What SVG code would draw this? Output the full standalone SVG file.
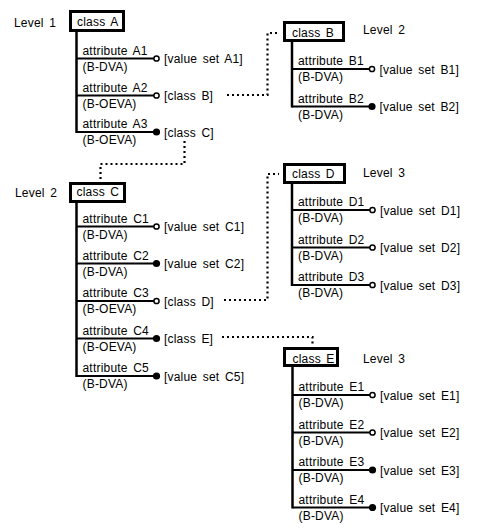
<svg xmlns="http://www.w3.org/2000/svg" width="500" height="528" viewBox="0 0 500 528">
<style>
text{font-family:"Liberation Sans",Arial,sans-serif;font-size:12px;fill:#000;letter-spacing:0.2px;word-spacing:2px}
.box{fill:#fff;stroke:#000;stroke-width:3}
.trunk{stroke:#000;stroke-width:2.5;fill:none}
.attr{stroke:#000;stroke-width:2;fill:none}
.open{fill:#fff;stroke:#000;stroke-width:1.5}
.filled{fill:#000;stroke:none}
.dot{fill:none;stroke:#000;stroke-width:2.2;stroke-dasharray:2 3}
</style>
<rect width="500" height="528" fill="#fff"/>
<g id="connectors">
<path class="dot" d="M227,95 H267.5 V33 H279"/>
<path class="dot" d="M184.5,141 V164 H100.5 V180"/>
<path class="dot" d="M224,300 H267.5 V174 H279"/>
<path class="dot" d="M222,337 H312.5 V346"/>
</g>
<g id="classA">
<text x="14" y="27">Level 1</text>
<rect class="box" x="70.5" y="11.5" width="53" height="19"/>
<text x="77" y="26">class A</text>
<line class="trunk" x1="76.5" y1="32" x2="76.5" y2="133"/>
<line class="attr" x1="76.5" y1="58.5" x2="154" y2="58.5"/>
<circle class="open" cx="156.5" cy="58.5" r="2.6"/>
<text x="82.5" y="54.5">attribute A1</text>
<text x="82.5" y="70.5">(B-DVA)</text>
<text x="164" y="63">[value set A1]</text>
<line class="attr" x1="76.5" y1="95.5" x2="154" y2="95.5"/>
<circle class="open" cx="156.5" cy="95.5" r="2.6"/>
<text x="82.5" y="91.5">attribute A2</text>
<text x="82.5" y="107.5">(B-OEVA)</text>
<text x="164" y="100">[class B]</text>
<line class="attr" x1="76.5" y1="132" x2="154" y2="132"/>
<circle class="filled" cx="156.5" cy="132" r="3.6"/>
<text x="82.5" y="128">attribute A3</text>
<text x="82.5" y="144">(B-OEVA)</text>
<text x="164" y="136.5">[class C]</text>
</g>
<g id="classB">
<rect class="box" x="284.5" y="22.5" width="59" height="18"/>
<text x="292" y="36.5">class B</text>
<text x="363" y="34">Level 2</text>
<line class="trunk" x1="292" y1="42" x2="292" y2="107.5"/>
<line class="attr" x1="292" y1="69" x2="369.5" y2="69"/>
<circle class="open" cx="372" cy="69" r="2.6"/>
<text x="298" y="65">attribute B1</text>
<text x="298" y="81">(B-DVA)</text>
<text x="379.5" y="73.5">[value set B1]</text>
<line class="attr" x1="292" y1="106.5" x2="369.5" y2="106.5"/>
<circle class="filled" cx="372" cy="106.5" r="3.6"/>
<text x="298" y="102.5">attribute B2</text>
<text x="298" y="118.5">(B-DVA)</text>
<text x="379.5" y="111">[value set B2]</text>
</g>
<g id="classC">
<text x="15" y="197">Level 2</text>
<rect class="box" x="70.5" y="183.5" width="54" height="18"/>
<text x="76.5" y="195.5">class C</text>
<line class="trunk" x1="76.5" y1="203" x2="76.5" y2="377"/>
<line class="attr" x1="76.5" y1="226.5" x2="154" y2="226.5"/>
<circle class="open" cx="156.5" cy="226.5" r="2.6"/>
<text x="82.5" y="222.5">attribute C1</text>
<text x="82.5" y="238.5">(B-DVA)</text>
<text x="164" y="231">[value set C1]</text>
<line class="attr" x1="76.5" y1="263.5" x2="154" y2="263.5"/>
<circle class="filled" cx="156.5" cy="263.5" r="3.6"/>
<text x="82.5" y="259.5">attribute C2</text>
<text x="82.5" y="275.5">(B-DVA)</text>
<text x="164" y="268">[value set C2]</text>
<line class="attr" x1="76.5" y1="301" x2="154" y2="301"/>
<circle class="open" cx="156.5" cy="301" r="2.6"/>
<text x="82.5" y="297">attribute C3</text>
<text x="82.5" y="313">(B-OEVA)</text>
<text x="164" y="305.5">[class D]</text>
<line class="attr" x1="76.5" y1="338.5" x2="154" y2="338.5"/>
<circle class="filled" cx="156.5" cy="338.5" r="3.6"/>
<text x="82.5" y="334.5">attribute C4</text>
<text x="82.5" y="350.5">(B-OEVA)</text>
<text x="164" y="343">[class E]</text>
<line class="attr" x1="76.5" y1="376" x2="154" y2="376"/>
<circle class="filled" cx="156.5" cy="376" r="3.6"/>
<text x="82.5" y="372">attribute C5</text>
<text x="82.5" y="388">(B-DVA)</text>
<text x="164" y="380.5">[value set C5]</text>
</g>
<g id="classD">
<rect class="box" x="284.5" y="164.5" width="60" height="18"/>
<text x="292" y="178">class D</text>
<text x="363" y="177">Level 3</text>
<line class="trunk" x1="292" y1="184" x2="292" y2="286"/>
<line class="attr" x1="292" y1="210" x2="370" y2="210"/>
<circle class="open" cx="372.5" cy="210" r="2.6"/>
<text x="298" y="206">attribute D1</text>
<text x="298" y="222">(B-DVA)</text>
<text x="380" y="214.5">[value set D1]</text>
<line class="attr" x1="292" y1="247.5" x2="370" y2="247.5"/>
<circle class="open" cx="372.5" cy="247.5" r="2.6"/>
<text x="298" y="243.5">attribute D2</text>
<text x="298" y="259.5">(B-DVA)</text>
<text x="380" y="252">[value set D2]</text>
<line class="attr" x1="292" y1="285" x2="370" y2="285"/>
<circle class="open" cx="372.5" cy="285" r="2.6"/>
<text x="298" y="281">attribute D3</text>
<text x="298" y="297">(B-DVA)</text>
<text x="380" y="289.5">[value set D3]</text>
</g>
<g id="classE">
<rect class="box" x="284.5" y="348.5" width="53" height="17"/>
<text x="292.5" y="362.5">class E</text>
<text x="363" y="363">Level 3</text>
<line class="trunk" x1="292.5" y1="367" x2="292.5" y2="508.5"/>
<line class="attr" x1="292.5" y1="395" x2="370" y2="395"/>
<circle class="open" cx="372.5" cy="395" r="2.6"/>
<text x="298.5" y="391">attribute E1</text>
<text x="298.5" y="407">(B-DVA)</text>
<text x="380" y="399.5">[value set E1]</text>
<line class="attr" x1="292.5" y1="432.5" x2="370" y2="432.5"/>
<circle class="open" cx="372.5" cy="432.5" r="2.6"/>
<text x="298.5" y="428.5">attribute E2</text>
<text x="298.5" y="444.5">(B-DVA)</text>
<text x="380" y="437">[value set E2]</text>
<line class="attr" x1="292.5" y1="470" x2="370" y2="470"/>
<circle class="filled" cx="372.5" cy="470" r="3.6"/>
<text x="298.5" y="466">attribute E3</text>
<text x="298.5" y="482">(B-DVA)</text>
<text x="380" y="474.5">[value set E3]</text>
<line class="attr" x1="292.5" y1="507.5" x2="370" y2="507.5"/>
<circle class="filled" cx="372.5" cy="507.5" r="3.6"/>
<text x="298.5" y="503.5">attribute E4</text>
<text x="298.5" y="519.5">(B-DVA)</text>
<text x="380" y="512">[value set E4]</text>
</g>
</svg>
